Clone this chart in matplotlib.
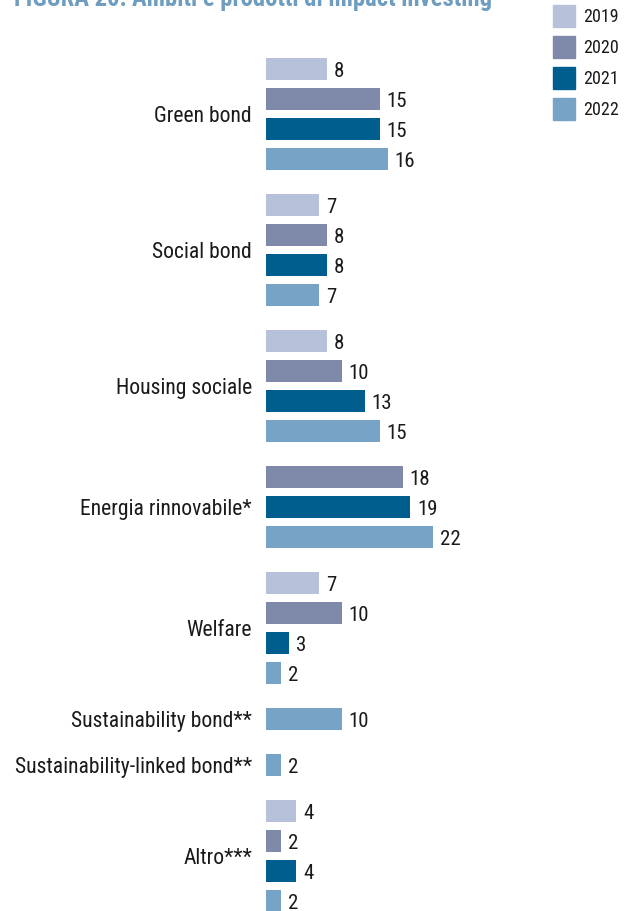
import matplotlib
matplotlib.use("Agg")
import matplotlib.pyplot as plt
import numpy as np

plt.rcParams['font.family'] = ['Roboto Condensed', 'DejaVu Sans']

categories = ["Green bond", "Social bond", "Housing sociale", "Energia rinnovabile*",
              "Welfare", "Sustainability bond**", "Sustainability-linked bond**", "Altro***"]
years = ["2019", "2020", "2021", "2022"]
v2019 = [8, 7, 8, None, 7, None, None, 4]
v2020 = [15, 8, 10, 18, 10, None, None, 2]
v2021 = [15, 8, 13, 19, 3, None, None, 4]
v2022 = [16, 7, 15, 22, 2, 10, 2, 2]
colors = ["#b7c2da", "#7f8aab", "#005e8f", "#77a3c6"]
title = "FIGURA 20: Ambiti e prodotti di impact investing"

W, H = 632, 911
fig = plt.figure(figsize=(W / 100, H / 100), dpi=100)
px_slot = 30.0
top_px = 69.0
ax = fig.add_axes([266 / W, 0, 1 - 266 / W, 1])
ax.set_xlim(0, (W - 266) / 7.6)
ax.set_ylim((H - top_px) / px_slot, -top_px / px_slot)

series = [v2019, v2020, v2021, v2022]
group_gap = 46.0 / px_slot
pos = 0.0
first = True
centers = []
for ci, cat in enumerate(categories):
    gpos = []
    for si, s in enumerate(series):
        v = s[ci]
        if v is None:
            continue
        if not first:
            pos += 1.0 if gpos else group_gap
        first = False
        ax.barh(pos, v, height=22 / px_slot, color=colors[si], left=0)
        ax.text(v + 0.9, pos + 0.07, str(v), va='center', ha='left', fontsize=15, color='#1a1a1a')
        gpos.append(pos)
    centers.append(np.mean(gpos))

ax.set_yticks(centers)
ax.set_yticklabels(categories, fontsize=15.6, color='#1a1a1a')
ax.tick_params(axis='y', length=0, pad=10)
ax.set_xticks([])
for sp in ax.spines.values():
    sp.set_visible(False)
ax.patch.set_alpha(0)

# legend
for i, (y, c) in enumerate(zip(years, colors)):
    cy = 16 + i * 31
    fig.patches.append(plt.Rectangle((553 / W, 1 - (cy + 11) / H), 22 / W, 22 / H,
                                     transform=fig.transFigure, color=c))
    fig.text(583 / W, 1 - (cy + 1) / H, y, va='center', ha='left', fontsize=13, color='#1a1a1a')

fig.text(14 / W, 1 - 6 / H, title, ha='left', va='baseline', fontsize=17.7,
         fontweight='bold', color='#6f9dbf')

fig.savefig("out.png", dpi=100)
